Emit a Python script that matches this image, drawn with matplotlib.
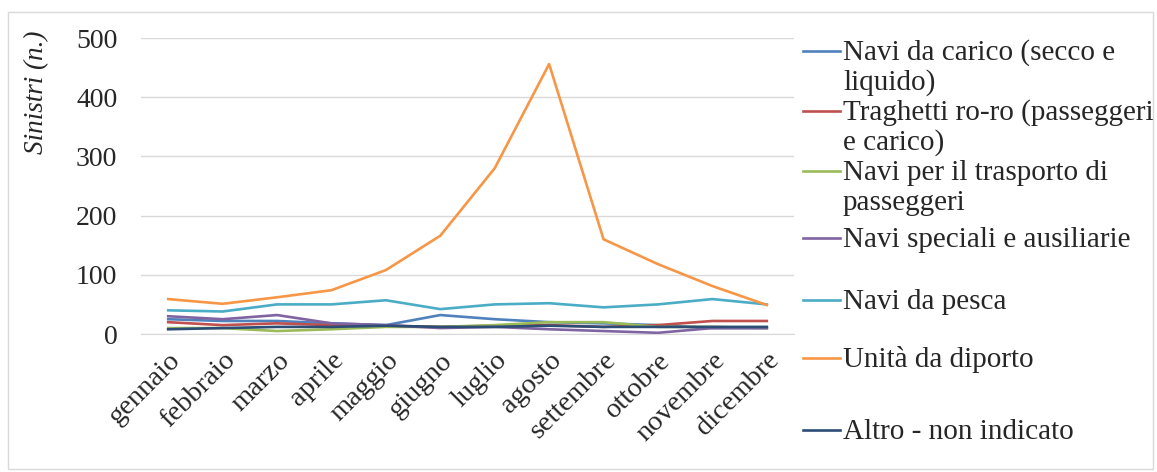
import matplotlib.pyplot as plt
from matplotlib.lines import Line2D
from matplotlib.patches import Rectangle
from matplotlib.transforms import ScaledTranslation

MESI = ["gennaio", "febbraio", "marzo", "aprile", "maggio", "giugno",
        "luglio", "agosto", "settembre", "ottobre", "novembre", "dicembre"]

# sinistri per mese e tipo di unità
CARICO     = [25, 22, 22, 18, 15, 32, 25, 20, 18, 15, 10, 10]
TRAGHETTI  = [20, 15, 18, 15, 14, 12, 14, 15, 12, 15, 22, 22]
PASSEGGERI = [10, 10, 5, 8, 12, 12, 15, 20, 20, 12, 12, 10]
SPECIALI   = [30, 25, 32, 18, 15, 10, 12, 8, 5, 2, 10, 10]
PESCA      = [40, 38, 50, 50, 57, 42, 50, 52, 45, 50, 59, 50]
DIPORTO    = [59, 51, 62, 74, 108, 166, 280, 456, 160, 118, 81, 49]
ALTRO      = [8, 10, 12, 12, 14, 12, 12, 14, 12, 12, 12, 12]

SERIE = [
    ("Navi da carico (secco e\nliquido)", CARICO, "#4F81BD"),
    ("Traghetti ro-ro (passeggeri\ne carico)", TRAGHETTI, "#C0504D"),
    ("Navi per il trasporto di\npasseggeri", PASSEGGERI, "#9BBB59"),
    ("Navi speciali e ausiliarie", SPECIALI, "#8064A2"),
    ("Navi da pesca", PESCA, "#4BACC6"),
    ("Unità da diporto", DIPORTO, "#F79646"),
    ("Altro - non indicato", ALTRO, "#2C4D75"),
]

W, H = 1157, 472
plt.rcParams["font.family"] = ["Liberation Serif", "DejaVu Serif"]
TESTO = "#262626"

fig = plt.figure(figsize=(W / 100, H / 100), dpi=100)
fig.patch.set_facecolor("white")
fig.patches.append(Rectangle((8 / W, 3 / H), 1145 / W, 457 / H,
                             transform=fig.transFigure, fill=False,
                             edgecolor="#D9D9D9", linewidth=1.0))

ax = fig.add_axes([141 / W, 1 - 334 / H, 653 / W, 296 / H])
x = range(len(MESI))
for nome, valori, colore in SERIE:
    ax.plot(x, valori, color=colore, linewidth=1.9, solid_joinstyle="round")

ax.set_xlim(-0.5, len(MESI) - 0.5)
ax.set_ylim(0, 500)
ax.set_yticks(range(0, 501, 100))
ax.set_xticks(list(x))
ax.set_xticklabels(MESI, rotation=45, ha="right", rotation_mode="anchor",
                   fontsize=20.5, color=TESTO)
# sposta leggermente le etichette dei mesi verso destra
spost = ScaledTranslation(7 / 100, 0, fig.dpi_scale_trans)
for lbl in ax.get_xticklabels():
    lbl.set_transform(lbl.get_transform() + spost)
ax.tick_params(axis="y", labelsize=20, length=0, pad=17, labelcolor=TESTO)
ax.tick_params(axis="x", length=0, pad=10)
ax.grid(axis="y", color="#D9D9D9", linewidth=1.0)
ax.set_axisbelow(True)
for lato in ["top", "right", "left"]:
    ax.spines[lato].set_visible(False)
ax.spines["bottom"].set_color("#D9D9D9")

ax.set_ylabel("Sinistri (n.)", fontsize=19.5, style="italic", color=TESTO)
ax.yaxis.set_label_coords(-0.141, 0.818)

# legenda a destra: una riga di testo ogni 30 px
basi = [60, 120, 180, 247, 309, 367, 439]
for (nome, valori, colore), yb in zip(SERIE, basi):
    fig.add_artist(Line2D([803 / W, 840 / W], [1 - (yb - 9) / H] * 2,
                          color=colore, linewidth=1.9))
    for i, riga in enumerate(nome.split("\n")):
        fig.text(843 / W, 1 - (yb + 30 * i) / H, riga, fontsize=21,
                 va="baseline", ha="left", color=TESTO)

fig.savefig("out.png", dpi=100, facecolor="white")
